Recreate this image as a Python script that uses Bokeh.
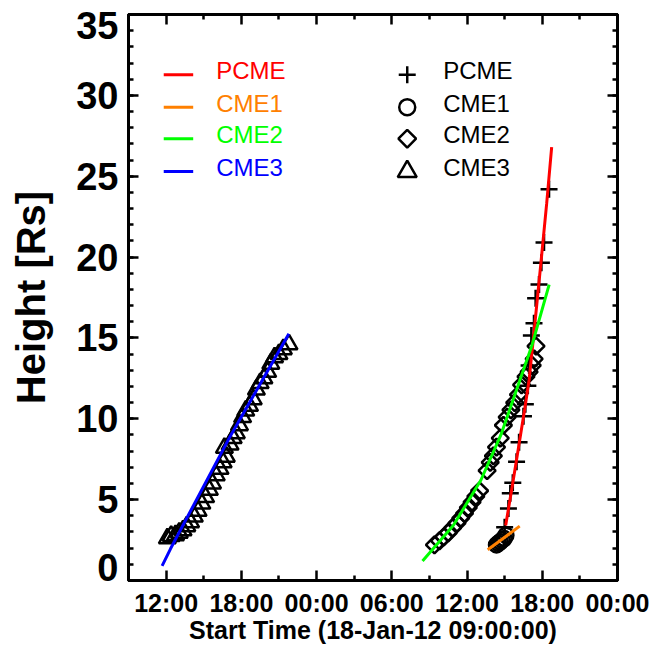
import math
from bokeh.plotting import figure
from bokeh.models import FixedTicker, LinearAxis, Range1d, CustomLabelingPolicy
from bokeh.embed import file_html
from bokeh.resources import INLINE
from bokeh.core.properties import value

# ---------------- data (hours since 18-Jan-12 09:00:00, height in Rs) ----------------
x_ticks = [3, 9, 15, 21, 27, 33, 39]
x_tick_labels = ["12:00", "18:00", "00:00", "06:00", "12:00", "18:00", "00:00"]
x_minor = [0, 6, 12, 18, 24, 30, 36]
y_ticks = [0, 5, 10, 15, 20, 25, 30, 35]
y_tick_labels = ["0", "5", "10", "15", "20", "25", "30", "35"]

pcme_t = [30.0, 30.3, 30.45, 30.65, 30.95, 31.15, 31.5, 31.65, 31.85, 31.95,
          32.13, 32.34, 32.47, 32.74, 32.93, 33.14, 33.54]
pcme_h = [3.3, 4.45, 5.4, 6.05, 7.35, 8.55, 10.15, 10.9, 12.05, 13.3,
          15.15, 15.9, 17.45, 18.3, 19.65, 20.9, 24.2]

cme1_t = [29.35, 29.5, 29.65, 29.8, 29.95, 30.1]
cme1_h = [2.2, 2.3, 2.4, 2.5, 2.6, 2.8]

cme2_t = [24.4, 24.8, 25.15, 25.5, 25.85, 26.2, 26.5, 26.8, 27.1, 27.4, 27.7, 28.0,
          28.6, 28.85, 29.1, 29.35, 29.65, 29.9, 30.2, 30.5, 30.8, 31.1, 31.35,
          31.7, 31.95, 32.2, 32.35, 32.5]
cme2_h = [2.2, 2.45, 2.7, 2.95, 3.25, 3.55, 3.85, 4.15, 4.5, 4.85, 5.2, 5.55,
          6.8, 7.3, 7.7, 8.25, 8.8, 9.6, 10.1, 10.55, 11.0, 11.5, 12.1,
          12.6, 12.9, 13.3, 13.7, 14.5]

cme3_t = [3.1, 3.4, 3.75, 4.05, 4.35, 4.65, 4.95, 5.25, 5.55, 5.85, 6.15, 6.45,
          6.7, 7.0, 7.3, 7.55, 7.8, 7.65, 8.1, 8.35, 8.6, 8.85, 9.1, 9.35, 9.65,
          9.95, 10.2, 10.5, 10.8, 11.1, 11.35, 11.65, 12.0, 12.35, 12.8]
cme3_h = [2.6, 2.75, 2.8, 2.95, 3.1, 3.35, 3.6, 3.95, 4.3, 4.75, 5.15, 5.6,
          6.0, 6.5, 6.9, 7.3, 7.65, 8.2, 8.4, 8.8, 9.1, 9.6, 10.1, 10.5, 10.8,
          11.2, 11.8, 12.2, 12.5, 12.9, 13.4, 13.8, 14.0, 14.3, 14.6]

# fitted curves
pcme_fit_t = [30.08, 30.6, 31.1, 31.6, 31.95, 32.4, 32.9, 33.35, 33.75]
pcme_fit_h = [3.4, 5.8, 8.2, 10.6, 12.4, 15.8, 19.7, 23.3, 26.8]
cme1_fit_t = [28.65, 31.2]
cme1_fit_h = [1.9, 3.36]
cme2_fit_t = [23.45, 25.9, 28.1, 29.7, 31.0, 32.2, 33.55]
cme2_fit_h = [1.2, 3.4, 6.2, 9.0, 11.9, 14.6, 18.3]
cme3_fit_t = [2.68, 3.35, 8.0, 12.79]
cme3_fit_h = [0.9, 1.96, 8.76, 15.26]

names = ["PCME", "CME1", "CME2", "CME3"]
fit_colors = ["#ff0000", "#ff8000", "#00ff00", "#0000ff"]

# ---------------- figure ----------------
FONT = "Liberation Sans"
p = figure(width=652, height=648, output_backend="svg", toolbar_location=None,
           x_range=Range1d(0, 39), y_range=Range1d(0, 35),
           min_border_left=128, min_border_right=35, min_border_top=14,
           min_border_bottom=68, background_fill_color="white",
           border_fill_color="white")
p.xgrid.visible = False
p.ygrid.visible = False
p.outline_line_color = "black"
p.outline_line_width = 3

xt = FixedTicker(ticks=x_ticks, minor_ticks=x_minor)
yt = FixedTicker(ticks=y_ticks, minor_ticks=list(range(0, 36)))

NO_LABELS = "for (const i of indices) { if (i < 0) yield i }"

def style_axis(ax, show_labels):
    ax.axis_line_width = 3
    ax.major_tick_in = 10
    ax.major_tick_out = 0
    ax.minor_tick_in = 5
    ax.minor_tick_out = 0
    ax.major_tick_line_width = 2.5
    ax.minor_tick_line_width = 2.5
    ax.major_tick_line_color = "black"
    ax.minor_tick_line_color = "black"
    ax.axis_line_color = "black"
    ax.major_label_text_font = FONT
    ax.major_label_text_font_style = "bold"
    ax.major_label_text_color = "black"
    ax.axis_label_text_font = FONT
    ax.axis_label_text_font_style = "bold"
    ax.axis_label_text_color = "black"
    if not show_labels:
        ax.major_label_text_font_size = "1px"
        ax.major_label_standoff = 0
        ax.major_label_policy = CustomLabelingPolicy(code=NO_LABELS)

xa = p.xaxis[0]
xa.ticker = xt
xa.major_label_overrides = {t: s for t, s in zip(x_ticks, x_tick_labels)}
style_axis(xa, True)
xa.major_label_text_font_size = "25px"
xa.major_label_standoff = 8
xa.axis_label = "Start Time (18-Jan-12 09:00:00)"
xa.axis_label_text_font_size = "25px"
xa.axis_label_standoff = -4

# left axis: ticks only
ya = p.yaxis[0]
ya.ticker = yt
style_axis(ya, False)

# second left axis: tick labels + title; the edge labels (0, 35) sit nudged inside
edge_pos = {y_ticks[0]: 0.78, y_ticks[-1]: 34.35}
lab_pos = [edge_pos.get(t, t) for t in y_ticks]
ylab = LinearAxis(ticker=FixedTicker(ticks=lab_pos, minor_ticks=[]))
style_axis(ylab, True)
ylab.axis_line_color = None
ylab.major_tick_line_color = None
ylab.minor_tick_line_color = None
ylab.major_tick_in = 0
ylab.minor_tick_in = 0
ylab.major_label_overrides = {pos: s for pos, s in zip(lab_pos, y_tick_labels)}
ylab.major_label_text_font_size = "38px"
ylab.major_label_standoff = 6
ylab.axis_label = "Height [Rs]"
ylab.axis_label_text_font_size = "40px"
ylab.axis_label_standoff = 20
p.add_layout(ylab, "left")

top = LinearAxis(ticker=xt)
style_axis(top, False)
p.add_layout(top, "above")
right = LinearAxis(ticker=yt)
style_axis(right, False)
p.add_layout(right, "right")

# ---------------- data markers ----------------
MW = 2.5
p.scatter(pcme_t, pcme_h, marker="cross", size=17, line_width=MW, line_color="black")
p.scatter(cme1_t, cme1_h, marker="circle", size=15, line_width=MW, line_color="black",
          fill_color=None)
p.scatter(cme2_t, cme2_h, marker="square", angle=math.pi / 4, size=12, line_width=MW,
          line_color="black", fill_color=None)
p.scatter(cme3_t, cme3_h, marker="triangle", size=17, line_width=MW, line_color="black",
          fill_color=None)

# ---------------- fits ----------------
for ft, fh, c in [(pcme_fit_t, pcme_fit_h, fit_colors[0]),
                  (cme1_fit_t, cme1_fit_h, fit_colors[1]),
                  (cme2_fit_t, cme2_fit_h, fit_colors[2]),
                  (cme3_fit_t, cme3_fit_h, fit_colors[3])]:
    p.line(ft, fh, line_color=c, line_width=3)

# ---------------- legends (layout positions in data space) ----------------
leg_rows = [31.27, 29.27, 27.32, 25.29]
p.segment(x0=[2.81] * 4, y0=leg_rows, x1=[5.16] * 4, y1=leg_rows,
          line_color=fit_colors, line_width=3)
p.text(x=[7.0] * 4, y=leg_rows, text=names, text_color=fit_colors,
       text_font=value(FONT), text_font_size="24px", text_baseline="middle",
       text_align="left", y_offset=-4)

p.scatter([22.23], [leg_rows[0]], marker="cross", size=17, line_width=MW, line_color="black")
p.scatter([22.23], [leg_rows[1]], marker="circle", size=16, line_width=MW,
          line_color="black", fill_color=None)
p.scatter([22.23], [leg_rows[2]], marker="square", angle=math.pi / 4, size=12.5,
          line_width=MW, line_color="black", fill_color=None)
p.scatter([22.23], [leg_rows[3]], marker="triangle", size=19, line_width=MW,
          line_color="black", fill_color=None)
p.text(x=[25.1] * 4, y=leg_rows, text=names, text_color="black",
       text_font=value(FONT), text_font_size="24px", text_baseline="middle",
       text_align="left", y_offset=-4)

open("out.html", "w").write(file_html(p, INLINE))
